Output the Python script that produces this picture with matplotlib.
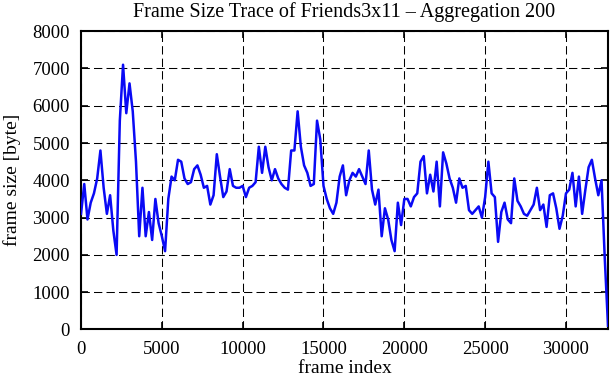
import numpy as np
import matplotlib
matplotlib.use("Agg")
import matplotlib.pyplot as plt

# frame size trace, one value every 200 frames (aggregation 200)
step = 200
frame_size = [
    3100, 3900, 2950, 3400, 3650, 4050, 4800, 3800, 3100, 3600,
    2650, 2000, 5600, 7100, 5800, 6600, 5850, 4500, 2500, 3800,
    2500, 3150, 2400, 3500, 2850, 2500, 2100, 3500, 4100, 4000,
    4550, 4500, 4050, 3900, 3950, 4300, 4400, 4150, 3800, 3850,
    3350, 3600, 4700, 4100, 3550, 3700, 4300, 3850, 3800, 3800,
    3850, 3550, 3800, 3850, 3950, 4900, 4200, 4900, 4350, 4000,
    4300, 4050, 3900, 3800, 3750, 4800, 4800, 5850, 4900, 4400,
    4200, 3850, 3900, 5600, 5100, 3850, 3500, 3250, 3100, 3400,
    4100, 4400, 3600, 4000, 4200, 4100, 4300, 4100, 3900, 4800,
    3750, 3350, 3750, 2500, 3250, 2950, 2400, 2100, 3400, 2800,
    3500, 3500, 3300, 3550, 3650, 4500, 4650, 3650, 4150, 3700,
    4500, 3300, 4750, 4450, 4050, 3800, 3400, 4050, 3800, 3850,
    3200, 3100, 3200, 3300, 3000, 3550, 4500, 3650, 3550, 2350,
    3150, 3400, 2950, 2850, 4050, 3450, 3300, 3100, 3050, 3200,
    3350, 3800, 3200, 3350, 2750, 3600, 3650, 3250, 2700, 3050,
    3650, 3750, 4200, 3300, 4100, 3100, 3750, 4350, 4550, 4050,
    3600, 4000, 1900, 100,
]
frame_index = np.arange(len(frame_size)) * step

x_ticks = [0, 5000, 10000, 15000, 20000, 25000, 30000]
y_ticks = [0, 1000, 2000, 3000, 4000, 5000, 6000, 7000, 8000]

plt.rcParams['font.family'] = ['Liberation Serif', 'DejaVu Serif']

fig = plt.figure(figsize=(6.11, 3.80), dpi=100)
ax = fig.add_axes([0.1326, 0.133, 0.8625, 0.785])

ax.plot(frame_index, frame_size, color='#0a0af5', lw=1.8, zorder=3)

ax.set_xlim(0, frame_index[-1])
ax.set_ylim(0, 8000)
ax.set_xticks(x_ticks)
ax.set_yticks(y_ticks)

# dashed grid like gnuplot
ax.grid(True, color='black', linestyle=(0, (8, 4)), linewidth=0.75)
ax.set_axisbelow(True)

for s in ax.spines.values():
    s.set_linewidth(1.5)
ax.tick_params(direction='in', length=5, width=1.2, top=True, right=True,
               labelsize=13.5)
ax.tick_params(axis='x', pad=8)
ax.tick_params(axis='y', pad=8)

ax.set_title("Frame Size Trace of Friends3x11 \u2013 Aggregation 200",
             fontsize=14.5, pad=10)
# axis labels placed in axes coords
ax.text(0.5, -0.13, "frame index", transform=ax.transAxes,
        ha='center', va='center', fontsize=14)
ax.text(-0.131, 0.5, "frame size [byte]", transform=ax.transAxes,
        ha='center', va='center', rotation=90, fontsize=14)

fig.savefig("out.png", dpi=100)
